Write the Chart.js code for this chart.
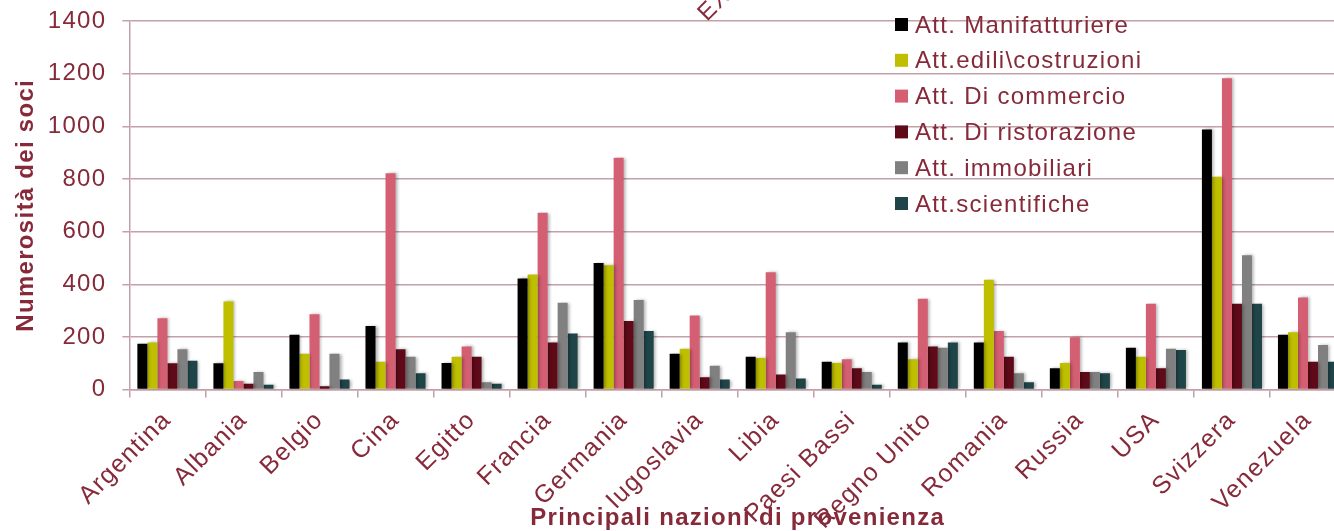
<!DOCTYPE html>
<html>
<head>
<meta charset="utf-8">
<script src="https://cdn.jsdelivr.net/npm/chart.js@4"></script>
<style>
  html, body { margin: 0; padding: 0; background: #fff; overflow: hidden; }
</style>
</head>
<body>
<canvas id="chartSoci" width="1350" height="531"></canvas>
<script>
const nazioni = ['Argentina', 'Albania', 'Belgio', 'Cina', 'Egitto', 'Francia', 'Germania', 'Iugoslavia',
    'Libia', 'Paesi Bassi', 'Regno Unito', 'Romania', 'Russia', 'USA', 'Svizzera', 'Venezuela']

const attivita = ['Att. Manifatturiere', 'Att.edili\\costruzioni', 'Att. Di commercio',
    'Att. Di ristorazione', 'Att. immobiliari', 'Att.scientifiche']

const manifatturiere = [174, 100, 208, 242, 101, 422, 481, 136, 125, 106, 179, 179, 81, 159, 988, 208]
const edili          = [179, 335, 136, 106, 125, 437, 472, 155, 120, 101, 115, 417, 101, 125, 808, 218]
const commercio      = [271, 33, 286, 822, 164, 672, 881, 281, 446, 115, 345, 223, 199, 326, 1183, 350]
const ristorazione   = [100, 22, 13, 153, 125, 179, 261, 47, 57, 81, 164, 125, 67, 81, 326, 106]
const immobiliari    = [153, 67, 136, 125, 28, 330, 340, 91, 218, 67, 159, 62, 67, 155, 510, 169]
const scientifiche   = [110, 18, 38, 62, 22, 213, 223, 38, 42, 18, 179, 28, 62, 150, 326, 106]

const colori = ['#000000', '#bfbf00', '#d45f72', '#5e0a18', '#808080', '#1f4548']
const serie = [manifatturiere, edili, commercio, ristorazione, immobiliari, scientifiche]

const testo = '#862a3a'
const griglia = '#c3a1a8'
const font = "'Liberation Sans', Arial, sans-serif"

// spaziatura lettere: il grafico originale e' leggermente allargato
const spaziatura = {
    id: 'spaziatura',
    beforeUpdate(chart) { chart.ctx.letterSpacing = '1.3px' },
    beforeDraw(chart) { chart.ctx.letterSpacing = '1.3px' }
}

const ombra = {
    id: 'ombra',
    beforeDatasetsDraw(chart) {
        const ctx = chart.ctx
        ctx.save()
        ctx.shadowColor = 'rgba(0,0,0,0.3)'
        ctx.shadowBlur = 3
        ctx.shadowOffsetX = 2
        ctx.shadowOffsetY = 0
    },
    afterDatasetsDraw(chart) { chart.ctx.restore() }
}

const legenda = {
    id: 'legenda',
    afterDraw(chart) {
        const ctx = chart.ctx
        const area = chart.chartArea
        ctx.save()
        ctx.letterSpacing = '1.3px'
        ctx.font = `24px ${font}`
        ctx.textBaseline = 'middle'
        ctx.textAlign = 'left'
        chart.data.datasets.forEach((ds, i) => {
            const y = area.top + 4 + i * 35.8
            ctx.fillStyle = ds.backgroundColor
            ctx.fillRect(area.right - 451, y - 7, 13, 13)
            ctx.fillStyle = testo
            ctx.fillText(ds.label, area.right - 431, y + 1)
        })
        // scritta tagliata in alto
        ctx.translate(707, 22)
        ctx.rotate(-Math.PI / 4)
        ctx.textBaseline = 'alphabetic'
        ctx.fillText('EX', 0, 0)
        ctx.restore()
    }
}

const canvas = document.getElementById('chartSoci')
const context = canvas.getContext('2d')

const chartSoci = new Chart(context, {
    type: 'bar',
    data: {
        labels: nazioni,
        datasets: serie.map((valori, i) => ({
            label: attivita[i],
            data: valori,
            backgroundColor: colori[i],
            borderWidth: 0
        }))
    },
    options: {
        responsive: false,
        animation: false,
        categoryPercentage: 0.79,
        barPercentage: 1.0,
        layout: { padding: { left: 8, top: 21, right: 4, bottom: -12 } },
        plugins: {
            legend: { display: false },
            tooltip: { enabled: false }
        },
        scales: {
            x: {
                grid: { drawOnChartArea: false, drawTicks: true, tickLength: 8, color: griglia, lineWidth: 1.5 },
                border: { color: griglia, width: 1.5 },
                ticks: {
                    color: testo, font: { family: font, size: 25 },
                    minRotation: 45, maxRotation: 45, autoSkip: false, padding: 8
                },
                title: {
                    display: true, text: 'Principali nazioni di provenienza', color: testo,
                    font: { family: font, size: 24, weight: 'bold' }, padding: { top: -39, bottom: 10 }
                }
            },
            y: {
                min: 0, max: 1400,
                grid: { color: griglia, lineWidth: 1.5, tickLength: 7 },
                border: { color: griglia, width: 1.5 },
                ticks: {
                    stepSize: 200, color: testo, font: { family: font, size: 24, lineHeight: 0.4 }, padding: 16,
                    callback: v => String(v)
                },
                title: {
                    display: true, text: 'Numerosità dei soci', color: testo,
                    font: { family: font, size: 24, weight: 'bold' }, padding: { top: 4, bottom: -9 }
                }
            }
        }
    },
    plugins: [spaziatura, ombra, legenda]
})
</script>
</body>
</html>
